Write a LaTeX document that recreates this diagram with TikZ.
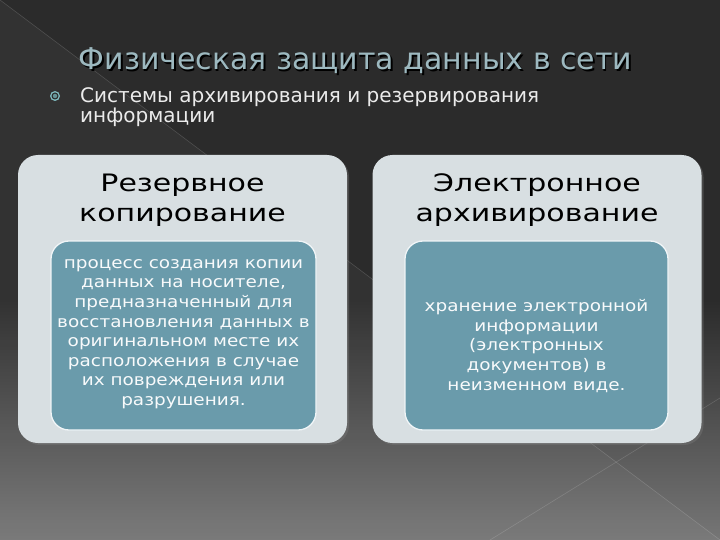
\documentclass[tikz,border=0pt]{standalone}
\usepackage{fontspec}
\setmainfont{DejaVu Sans}
\newfontfamily\gothic[FakeStretch=1.15]{DejaVu Sans}
\newfontfamily\gothicwide[FakeStretch=1.25]{DejaVu Sans}
\usetikzlibrary{shadows}
\definecolor{bgTop}{HTML}{2B2B2B}
\definecolor{bgBottom}{HTML}{767676}
\definecolor{titleGrey}{HTML}{9DB9C0}
\definecolor{outerFill}{HTML}{D8DFE2}
\definecolor{innerTeal}{HTML}{6A9BAB}
\definecolor{bulletTeal}{HTML}{7FB8BC}
\begin{document}
\begin{tikzpicture}[x=1pt,y=-1pt,
	outerbox/.style={rectangle, rounded corners=20pt, fill=outerFill, minimum width=329pt, minimum height=288pt, drop shadow={opacity=0.35, shadow xshift=2pt, shadow yshift=-2pt}},
	innerbox/.style={rectangle, rounded corners=18pt, fill=innerTeal, draw=white!90!innerTeal, line width=1.3pt, minimum height=189pt},
	boxtitle/.style={align=center, text=black, font=\gothicwide\fontsize{24}{30}\selectfont},
	boxtext/.style={align=center, text=white!95!innerTeal, font=\gothic\fontsize{16}{19.6}\selectfont}]
	\useasboundingbox (0,0) rectangle (720,540);
	% background
	\fill[bgTop] (0,0) rectangle (720,301);
	\shade[top color=bgTop, bottom color=bgBottom] (0,300) rectangle (720,540);
	\fill[white, opacity=0.035] (0,0) -- (720,540) -- (0,540) -- cycle;
	\draw[white, opacity=0.15, line width=0.6pt] (0,0) -- (720,540);
	\draw[white, opacity=0.15, line width=0.6pt] (490,540) -- (720,398);

	% heading
	\node[anchor=base, text=black, font=\fontsize{30}{34}\selectfont](headShadow) at (357,71.5){Физическая защита данных в сети};
	\node[anchor=base, text=titleGrey, font=\fontsize{30}{34}\selectfont](head) at (355.5,70){Физическая защита данных в сети};

	% bullet
	\node[circle, fill=bulletTeal, minimum size=10pt, inner sep=0pt](bullet) at (55,96){};
	\node[circle, fill=bgTop, minimum size=7pt, inner sep=0pt] at (bullet){};
	\node[circle, fill=bulletTeal!80!black, minimum size=4.5pt, inner sep=0pt] at (bullet){};
	\node[anchor=north west, align=left, inner sep=0pt, text=white!92!black, font=\fontsize{20}{20}\selectfont](subhead) at (80,87){Системы архивирования и резервирования\\информации};

	% left column
	\node[outerbox](copyBox) at (182.5,299){};
	\node[boxtitle](copyTitle) at (182.5,200){Резервное\\копирование};
	\node[innerbox, minimum width=265pt](copyInner) at (183.5,335.5){};
	\node[boxtext](copyText) at (183.5,334){процесс создания копии\\данных на носителе,\\предназначенный для\\восстановления данных в\\оригинальном месте их\\расположения в случае\\их повреждения или\\разрушения.};

	% right column
	\node[outerbox](archBox) at (537,299){};
	\node[boxtitle](archTitle) at (537,200){Электронное\\архивирование};
	\node[innerbox, minimum width=263pt](archInner) at (536.5,335.5){};
	\node[boxtext](archText) at (536.5,346){хранение электронной\\информации\\(электронных\\документов) в\\неизменном виде.};
\end{tikzpicture}
\end{document}
